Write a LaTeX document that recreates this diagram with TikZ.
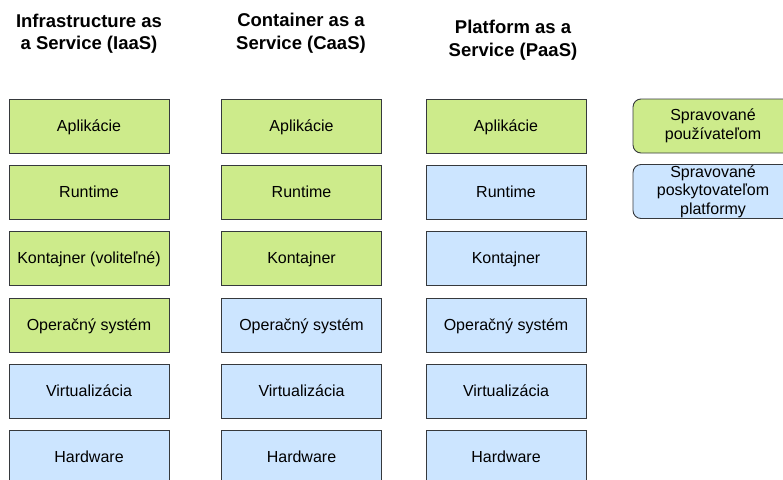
\documentclass[tikz,border=0pt]{standalone}
\usepackage{fontspec}
\setmainfont{Liberation Sans}
\definecolor{usergreen}{HTML}{CDEB8B}
\definecolor{provblue}{HTML}{CCE5FF}
\definecolor{edgegray}{HTML}{36393D}
\begin{document}
\begin{tikzpicture}[x=1pt,y=1pt,
  layer/.style={draw=edgegray, line width=0.9pt, minimum width=160pt, minimum height=54pt,
    inner sep=0pt, font=\fontsize{16}{18.5}\selectfont, align=center},
  oneline/.style={text height=11.5pt, text depth=0pt},
  usr/.style={layer, oneline, fill=usergreen},
  prov/.style={layer, oneline, fill=provblue},
  legendbox/.style={layer, rounded corners=8pt},
  heading/.style={font=\bfseries\fontsize{18.5}{22.5}\selectfont, align=center}]
\useasboundingbox (0,0) rectangle (783,-479);
\begin{scope}
\clip (0,0) rectangle (783,-479);

% column headings
\node[heading] (hIaaS) at (89,-33.5) {Infrastructure as\\a Service (IaaS)};
\node[heading] (hCaaS) at (301,-33) {Container as a\\Service (CaaS)};
\node[heading] (hPaaS) at (513,-40) {Platform as a\\Service (PaaS)};

% IaaS stack
\node[usr]  (i1) at (89,-126) {Aplikácie};
\node[usr]  (i2) at (89,-192) {Runtime};
\node[usr]  (i3) at (89,-258) {Kontajner (voliteľné)};
\node[usr]  (i4) at (89,-325) {Operačný systém};
\node[prov] (i5) at (89,-391) {Virtualizácia};
\node[prov] (i6) at (89,-457) {Hardware};

% CaaS stack
\node[usr]  (c1) at (301.5,-126) {Aplikácie};
\node[usr]  (c2) at (301.5,-192) {Runtime};
\node[usr]  (c3) at (301.5,-258) {Kontajner};
\node[prov] (c4) at (301.5,-325) {Operačný systém};
\node[prov] (c5) at (301.5,-391) {Virtualizácia};
\node[prov] (c6) at (301.5,-457) {Hardware};

% PaaS stack
\node[usr]  (p1) at (506,-126) {Aplikácie};
\node[prov] (p2) at (506,-192) {Runtime};
\node[prov] (p3) at (506,-258) {Kontajner};
\node[prov] (p4) at (506,-325) {Operačný systém};
\node[prov] (p5) at (506,-391) {Virtualizácia};
\node[prov] (p6) at (506,-457) {Hardware};

% legend
\node[legendbox, fill=usergreen] (lUser) at (713,-126) {Spravované\\používateľom};
\node[legendbox, fill=provblue]  (lProv) at (713,-191.5) {Spravované\\poskytovateľom\\platformy};
\end{scope}
\end{tikzpicture}
\end{document}
